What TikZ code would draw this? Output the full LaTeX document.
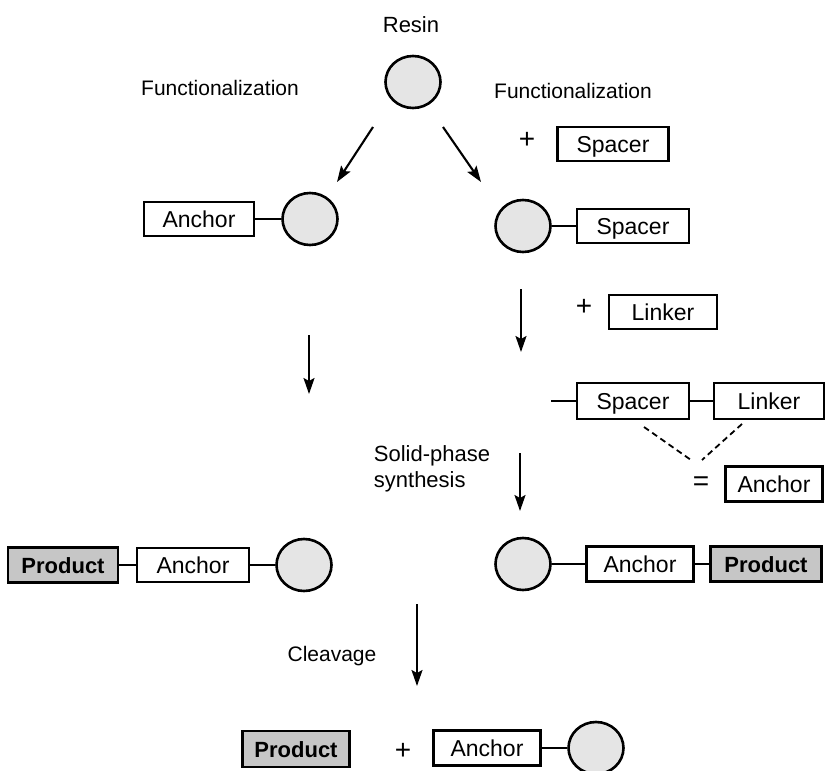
\documentclass[tikz,border=0pt]{standalone}
\usepackage{fontspec}
\setmainfont{Liberation Sans}
\usetikzlibrary{shapes.geometric,arrows.meta}
\begin{document}
\begin{tikzpicture}[x=1pt,y=-1pt,
  lbl/.style={inner sep=0pt,font=\fontsize{21}{25}\selectfont},
  sym/.style={inner sep=0pt,font=\fontsize{28}{30}\selectfont},
  box/.style={draw,line width=2.3pt,inner sep=0pt,minimum height=34pt,text height=18pt,text depth=2pt,font=\fontsize{23}{26}\selectfont},
  prod/.style={box,fill=gray!45,font=\fontsize{22}{26}\selectfont\bfseries},
  bead/.style={ellipse,draw,line width=2.6pt,fill=gray!20,inner sep=0pt,minimum width=55pt,minimum height=52pt},
  bond/.style={line width=2pt},
  rxn/.style={line width=2.1pt,-{Stealth[length=16pt,width=11pt,inset=3pt]}},
  dashline/.style={line width=1.8pt,dash pattern=on 6pt off 4pt}
]
\useasboundingbox (0,0) rectangle (828,771);

% top
\node[lbl,font=\fontsize{22}{26}\selectfont] (resinlbl) at (411,25) {Resin};
\node[bead] (resin) at (413,82) {};
\node[lbl] (funcL) at (220,88) {Functionalization};
\node[lbl] (funcR) at (573,91) {Functionalization};
\node[sym] (plus1) at (527,140) {+};
\node[box,minimum width=111pt] (spacer0) at (613,144) {Spacer};

\coordinate (aL1) at (373,127); \coordinate (aL2) at (337,182);
\coordinate (aR1) at (443,127); \coordinate (aR2) at (481,182);
\draw[rxn] (aL1) -- (aL2);
\draw[rxn] (aR1) -- (aR2);

% second row
\node[box,minimum width=110pt] (anchorL) at (199,219) {Anchor};
\node[bead] (beadL) at (310,219) {};
\draw[bond] (anchorL.east) -- (beadL.west);
\node[bead] (beadR) at (523,226) {};
\node[box,minimum width=112pt] (spacerR) at (633,226) {Spacer};
\draw[bond] (beadR.east) -- (spacerR.west);

% left down arrow
\coordinate (dL1) at (309,335); \coordinate (dL2) at (309,394);
\draw[rxn] (dL1) -- (dL2);

% right down arrow + linker
\coordinate (dR1) at (521,289); \coordinate (dR2) at (521,352);
\draw[rxn] (dR1) -- (dR2);
\node[sym] (plus2) at (584,307) {+};
\node[box,minimum width=108pt] (linker0) at (663,312) {Linker};

% spacer-linker row
\coordinate (stub) at (551,401);
\node[box,minimum width=112pt,minimum height=36pt] (spacerM) at (633,401) {Spacer};
\node[box,minimum width=110pt,minimum height=36pt] (linkerM) at (769,401) {Linker};
\draw[bond] (stub) -- (spacerM.west);
\draw[bond] (spacerM.east) -- (linkerM.west);
\coordinate (ds1) at (644,427); \coordinate (ds2) at (691,460);
\coordinate (ds3) at (742,424); \coordinate (ds4) at (702,460);
\draw[dashline] (ds1) -- (ds2);
\draw[dashline] (ds3) -- (ds4);
\node[sym] (eq) at (701,484) {=};
\node[box,minimum width=97pt,minimum height=35pt] (anchorEq) at (774,484) {Anchor};

% solid-phase synthesis
\node[lbl,align=left,font=\fontsize{22}{26}\selectfont] (sps) at (432,469) {Solid-phase\\synthesis};
\coordinate (dS1) at (520,453); \coordinate (dS2) at (520,511);
\draw[rxn] (dS1) -- (dS2);

% product rows
\node[prod,minimum width=110pt,minimum height=35pt] (prodL) at (63,565) {Product};
\node[box,minimum width=112pt] (anchorL2) at (193,565) {Anchor};
\node[bead] (beadL2) at (304,565) {};
\draw[bond] (prodL.east) -- (anchorL2.west);
\draw[bond] (anchorL2.east) -- (beadL2.west);

\node[bead] (beadR2) at (523,564) {};
\node[box,minimum width=107pt,minimum height=35pt] (anchorR2) at (640,564) {Anchor};
\node[prod,minimum width=111pt,minimum height=35pt] (prodR) at (766,564) {Product};
\draw[bond] (beadR2.east) -- (anchorR2.west);
\draw[bond] (anchorR2.east) -- (prodR.west);

% cleavage
\node[lbl] (cleav) at (332,656) {Cleavage};
\coordinate (dC1) at (417,604); \coordinate (dC2) at (417,686);
\draw[rxn] (dC1) -- (dC2);

% bottom
\node[prod,minimum width=107pt,minimum height=36pt] (prodB) at (296,749) {Product};
\node[sym] (plus3) at (403,751) {+};
\node[box,minimum width=107pt,minimum height=35pt] (anchorB) at (487,748) {Anchor};
\node[bead] (beadB) at (596,748) {};
\draw[bond] (anchorB.east) -- (beadB.west);
\end{tikzpicture}
\end{document}
